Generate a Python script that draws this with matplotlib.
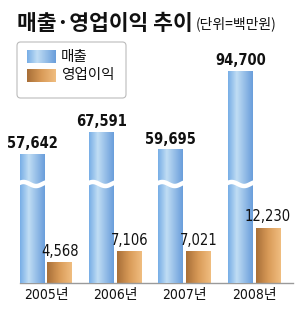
import numpy as np
import matplotlib
matplotlib.use("Agg")
import matplotlib.pyplot as plt
from matplotlib import font_manager as fm
from matplotlib.colors import LinearSegmentedColormap
from matplotlib.patches import FancyBboxPatch

years = ["2005년", "2006년", "2007년", "2008년"]
sales = [57642, 67591, 59695, 94700]
profit = [4568, 7106, 7021, 12230]
sales_labels = ["57,642", "67,591", "59,695", "94,700"]
profit_labels = ["4,568", "7,106", "7,021", "12,230"]

# look for a narrow face for the numbers
narrow, stretch = "Liberation Sans", "normal"
for f in fm.fontManager.ttflist:
    if "Narrow" in f.name or "Condensed" in f.name or "condensed" in str(f.stretch):
        narrow, stretch = f.name, f.stretch
        break
kr = "Noto Sans CJK KR"
num_fs = 10.5

blue_cm = LinearSegmentedColormap.from_list(
    "b", [(0, "#78aee6"), (0.35, "#c0ddf4"), (1, "#6a9edb")])
orange_cm = LinearSegmentedColormap.from_list(
    "o", [(0, "#a86f38"), (0.5, "#d99b58"), (1, "#f0bd80")])
grad = np.linspace(0, 1, 64).reshape(1, -1)


def gradient_bars(ax, bars, cmap):
    for b in bars:
        x0, y0 = b.get_x(), b.get_y()
        im = ax.imshow(grad, cmap=cmap, aspect="auto", zorder=2,
                       extent=[x0, x0 + b.get_width(), y0, y0 + b.get_height()])
        im.set_clip_path(b)


fig = plt.figure(figsize=(3.0, 3.13), dpi=100)
ax = fig.add_axes([20 / 300, 1 - 283 / 313, 273 / 300, 243 / 313])
ax2 = ax.twinx()

x = np.arange(len(years))
w = 0.36
off = 0.2

bars_s = ax2.bar(x - off, sales, w, color="none", linewidth=0)
bars_p = ax.bar(x + off, profit, w, color="none", linewidth=0)
gradient_bars(ax2, bars_s, blue_cm)
gradient_bars(ax, bars_p, orange_cm)

ax.set_xlim(-0.375, 3.56)
ax.set_ylim(0, 54000)
ax2.set_ylim(0, 108500)

# break marks on the blue bars
for b in bars_s:
    xx = np.linspace(b.get_x() - 0.02, b.get_x() + b.get_width() + 0.02, 40)
    yy = 44200 + 900 * np.sin((xx - b.get_x()) / b.get_width() * 2 * np.pi + 0.6)
    ax2.plot(xx, yy, color="white", lw=3.2, zorder=5, solid_capstyle="butt")

for xi, v, t in zip(x, sales, sales_labels):
    ax2.annotate(t, (xi - off, v), xytext=(0, 2), textcoords="offset points",
                 ha="center", va="bottom", fontsize=num_fs, fontweight="bold",
                 family=narrow, fontstretch=stretch, color="#111111")
# drawn on the top axes so the blue bars do not cover them
for xi, v, t in zip(x, profit, profit_labels):
    ax2.annotate(t, (xi + off, v), xycoords=ax.transData, xytext=(0, 2.5),
                 textcoords="offset points", ha="center", va="bottom",
                 fontsize=num_fs, family=narrow, fontstretch=stretch,
                 color="#111111", zorder=6)

for a in (ax, ax2):
    for s in a.spines.values():
        s.set_visible(False)
    a.set_yticks([])
    a.patch.set_visible(False)
ax.spines["bottom"].set_visible(True)
ax.spines["bottom"].set_color("#9a9a9a")
ax.spines["bottom"].set_linewidth(1)
ax.set_xticks(x)
ax.set_xticklabels(years, family=[narrow, kr], fontstretch=stretch,
                   fontsize=10, color="#111111")
ax.tick_params(axis="x", length=0, pad=3.5)

fig.text(17 / 300, 1 - 23 / 313, "매출·영업이익 추이", family=kr,
         fontsize=15.5, fontweight="bold", va="center", ha="left", color="#111111")
fig.text(196 / 300, 1 - 24 / 313, "(단위=백만원)", family=kr,
         fontsize=10, va="center", ha="left", color="#111111")

# legend box
box = FancyBboxPatch((17 / 300, 1 - 98 / 313), 109 / 300, 56 / 313,
                     boxstyle="round,pad=0,rounding_size=0.012",
                     transform=fig.transFigure, facecolor="white",
                     edgecolor="#bbbbbb", linewidth=0.8, zorder=0.5)
fig.patches.append(box)
for cm, top, label in [(blue_cm, 50, "매출"), (orange_cm, 69, "영업이익")]:
    sw = fig.add_axes([27 / 300, 1 - (top + 13) / 313, 28 / 300, 13 / 313])
    sw.set_zorder(3)
    sw.imshow(grad, cmap=cm, aspect="auto")
    sw.axis("off")
    fig.text(61 / 300, 1 - (top + 6.5) / 313, label, family=kr, fontsize=10.5,
             va="center", ha="left", color="#111111", zorder=4)

fig.savefig("out.png", dpi=100)
